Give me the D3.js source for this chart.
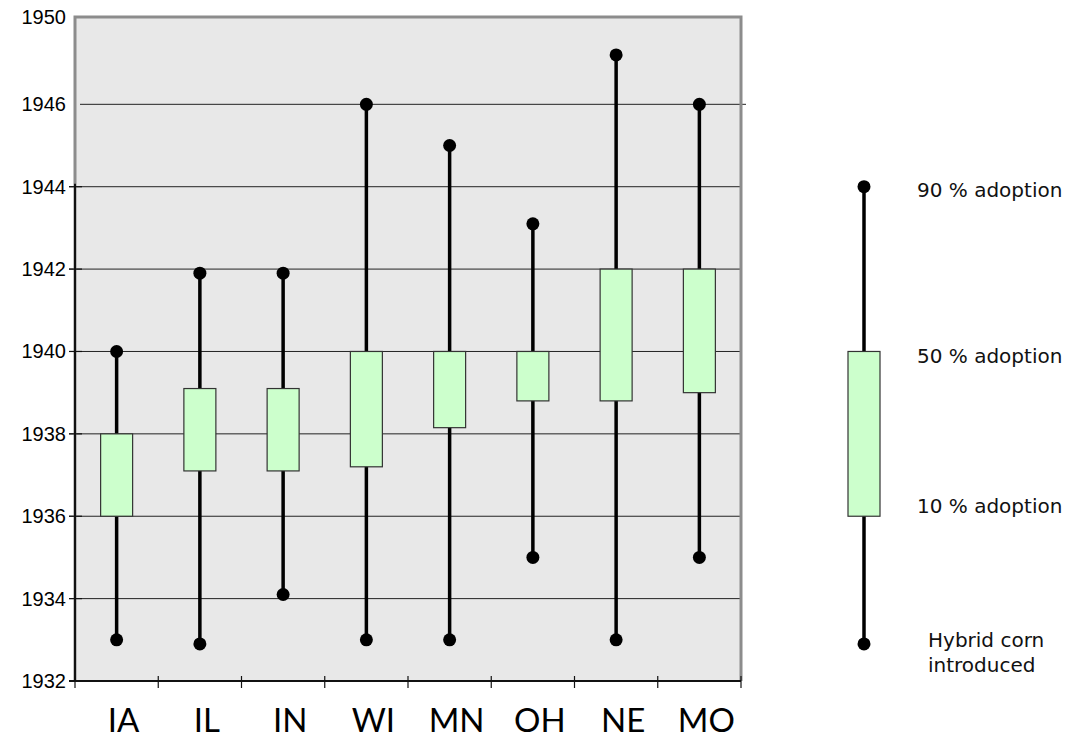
<!DOCTYPE html>
<html>
<head>
<meta charset="utf-8">
<script src="https://cdn.jsdelivr.net/npm/d3@7"></script>
<style>
    body { margin: 0; background: #fff; }
</style>
</head>
<body>
<script>
const WIDTH = 1072;
const HEIGHT = 740;

// states and the year each adoption stage was reached
const states = ["IA", "IL", "IN", "WI", "MN", "OH", "NE", "MO"];
const introduced = [1933, 1932.9, 1934.1, 1933, 1933, 1935, 1933, 1935];
const adopt10 = [1936, 1937.1, 1937.1, 1937.2, 1938.15, 1938.8, 1938.8, 1939];
const adopt50 = [1938, 1939.1, 1939.1, 1940, 1940, 1940, 1942, 1942];
const adopt90 = [1940, 1941.9, 1941.9, 1946, 1945, 1943.1, 1947.2, 1946];

// y axis ticks, the top label sits on the upper edge of the frame
const yTicks = [1932, 1934, 1936, 1938, 1940, 1942, 1944, 1946];
const yTickLabels = ["1932", "1934", "1936", "1938", "1940", "1942", "1944", "1946"];
const yTopLabel = "1950";

// legend sample and its texts
const legendValues = [1932.9, 1936, 1940, 1944];
const legendLabels = ["90 % adoption", "50 % adoption", "10 % adoption"];
const legendIntro = ["Hybrid corn", "introduced"];

var svg = d3.select("body").append("svg")
    .attr("width", WIDTH)
    .attr("height", HEIGHT);

// plot frame (note: "top" is taken by window.top)
const plotLeft = 75, plotRight = 741, plotTop = 17, plotBottom = 681;

var y = d3.scaleLinear().domain([1932, 1948.12]).range([plotBottom, plotTop]);
var x = d3.scaleBand().domain(states).range([plotLeft, plotRight]);

// plot background
svg.append("rect")
    .attr("x", plotLeft).attr("y", plotTop)
    .attr("width", plotRight - plotLeft).attr("height", plotBottom - plotTop)
    .attr("fill", "#e8e8e8");

// gridlines
svg.selectAll(".grid")
    .data(yTicks.slice(1))
    .enter().append("line")
    .attr("x1", d => d === 1946 ? plotLeft + 5 : plotLeft - 6)
    .attr("x2", d => d === 1946 ? plotRight + 5 : plotRight)
    .attr("y1", d => y(d)).attr("y2", d => y(d))
    .attr("stroke", "#222").attr("stroke-width", 1);

// grey frame on top, right and left
svg.append("path")
    .attr("d", "M" + plotLeft + "," + plotBottom + "V" + plotTop + "H" + plotRight + "V" + plotBottom)
    .attr("fill", "none")
    .attr("stroke", "#8c8c8c")
    .attr("stroke-width", 3);

// black left axis and its ticks
svg.append("line")
    .attr("x1", plotLeft).attr("x2", plotLeft)
    .attr("y1", y(1932)).attr("y2", y(1944) - 3)
    .attr("stroke", "#111").attr("stroke-width", 2);
svg.selectAll(".ytick")
    .data(yTicks.filter(d => d <= 1944))
    .enter().append("line")
    .attr("x1", plotLeft - 6).attr("x2", plotLeft + 7)
    .attr("y1", d => y(d)).attr("y2", d => y(d))
    .attr("stroke", "#111").attr("stroke-width", 1.2);

// bottom axis and category ticks
svg.append("line")
    .attr("x1", plotLeft - 6).attr("x2", plotRight)
    .attr("y1", plotBottom).attr("y2", plotBottom)
    .attr("stroke", "#111").attr("stroke-width", 2);
svg.selectAll(".xtick")
    .data(states.map(s => x(s)).concat([plotRight]))
    .enter().append("line")
    .attr("x1", d => d).attr("x2", d => d)
    .attr("y1", plotBottom - 5).attr("y2", plotBottom + 7)
    .attr("stroke", "#111").attr("stroke-width", 1.2);

// y labels
svg.selectAll(".ylabel")
    .data(yTicks)
    .enter().append("text")
    .attr("x", 66)
    .attr("y", d => y(d))
    .attr("dy", "0.35em")
    .attr("text-anchor", "end")
    .attr("font-family", "Liberation Sans, Arial, sans-serif")
    .attr("font-size", 20)
    .text((d, i) => yTickLabels[i]);
svg.append("text")
    .attr("x", 66)
    .attr("y", y.range()[1])
    .attr("dy", "0.35em")
    .attr("text-anchor", "end")
    .attr("font-family", "Liberation Sans, Arial, sans-serif")
    .attr("font-size", 20)
    .text(yTopLabel);

// x labels
svg.selectAll(".xlabel")
    .data(states)
    .enter().append("text")
    .attr("x", d => x(d) + x.bandwidth() / 2 + 7)
    .attr("y", 732)
    .attr("text-anchor", "middle")
    .attr("font-family", "Lato, sans-serif")
    .attr("font-size", 33)
    .text(d => d);

// draw one stage marker: whisker, box and the two end dots
function drawMarker(g, cx, lo, p10, p50, p90, boxW) {
    g.append("line")
        .attr("x1", cx).attr("x2", cx)
        .attr("y1", y(lo)).attr("y2", y(p90))
        .attr("stroke", "#000").attr("stroke-width", 3.5);
    g.append("rect")
        .attr("x", cx - boxW / 2)
        .attr("y", y(p50))
        .attr("width", boxW)
        .attr("height", y(p10) - y(p50))
        .attr("fill", "#ccffcc")
        .attr("stroke", "#333")
        .attr("stroke-width", 1.2);
    g.selectAll("circle")
        .data([lo, p90])
        .enter().append("circle")
        .attr("cx", cx).attr("cy", d => y(d))
        .attr("r", 6.5)
        .attr("fill", "#000");
}

states.forEach(function (s, i) {
    var g = svg.append("g");
    drawMarker(g, x(s) + x.bandwidth() / 2, introduced[i], adopt10[i], adopt50[i], adopt90[i], 32);
});

// legend
var lg = svg.append("g");
drawMarker(lg, 864, legendValues[0], legendValues[1], legendValues[2], legendValues[3], 32);

var legendFont = "DejaVu Sans, Verdana, sans-serif";
lg.selectAll(".ltext")
    .data([legendValues[3], legendValues[2], legendValues[1]])
    .enter().append("text")
    .attr("x", 917)
    .attr("y", (d, i) => y(d) + [10, 12, -3][i])
    .attr("font-family", legendFont)
    .attr("font-size", 20)
    .attr("fill", "#111")
    .text((d, i) => legendLabels[i]);
lg.selectAll(".itext")
    .data(legendIntro)
    .enter().append("text")
    .attr("x", 928)
    .attr("y", (d, i) => y(legendValues[0]) + 3 + i * 25)
    .attr("font-family", legendFont)
    .attr("font-size", 20)
    .attr("fill", "#111")
    .text(d => d);
</script>
</body>
</html>
